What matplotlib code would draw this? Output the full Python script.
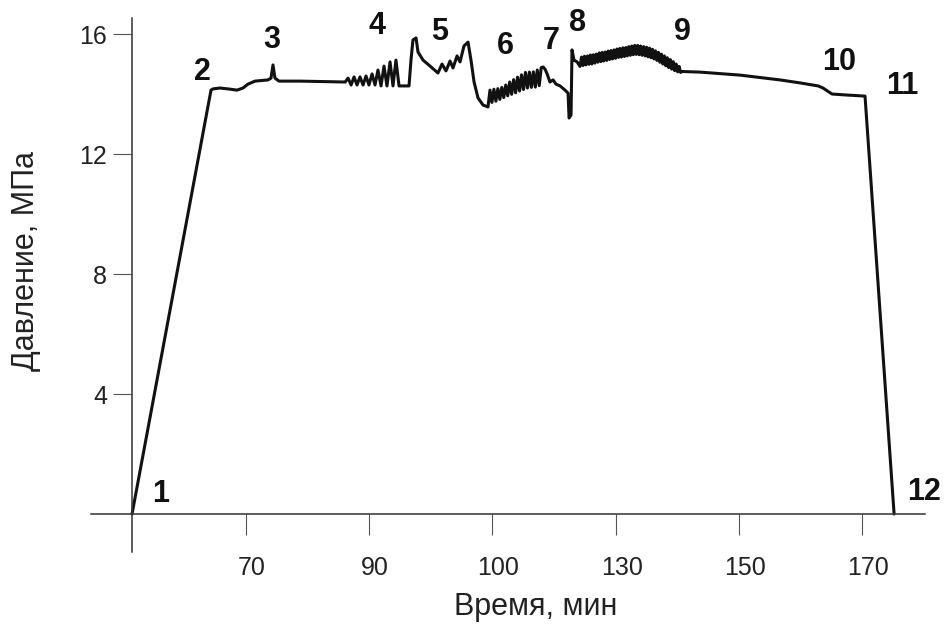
import matplotlib
matplotlib.use("Agg")
import matplotlib.pyplot as plt
import matplotlib.transforms as mtransforms

plt.rcParams['font.family'] = ['Liberation Sans', 'DejaVu Sans']

# x is position along the time axis, in tick steps (the tick labels are not evenly spaced in minutes)
XTICK_LABELS = ['70', '90', '100', '130', '150', '170']
XTICK_POS = [1, 2, 3, 4, 5, 6]
YTICKS = [4, 8, 12, 16]
X_ORIGIN = 0.075

# pressure curve
t_pos = [
    # 1 -> 2 ramp, plateau with bump 3
    0.075, 0.716, 0.732, 0.789, 0.854, 0.927, 0.976, 1.016, 1.073, 1.179,
    1.203, 1.219, 1.235, 1.268, 1.438, 1.805,
    # oscillations 4
    1.828, 1.853, 1.877, 1.901, 1.925, 1.950, 1.974, 1.998, 2.023, 2.047,
    2.071, 2.096, 2.120, 2.144, 2.169, 2.193, 2.217, 2.242, 2.266, 2.323,
    # peak and 5
    2.339, 2.355, 2.380, 2.396, 2.437, 2.494, 2.558, 2.591, 2.623, 2.656,
    2.680, 2.713, 2.737, 2.769, 2.802, 2.826, 2.851, 2.883, 2.924, 2.964,
    # oscillations 6 - 7
    2.980, 2.996, 3.012, 3.028, 3.044, 3.060, 3.076, 3.092, 3.108, 3.124,
    3.140, 3.156, 3.172, 3.188, 3.204, 3.220, 3.236, 3.252, 3.268, 3.284,
    3.300, 3.316, 3.332, 3.348, 3.364, 3.380, 3.396, 3.412, 3.428, 3.444,
    3.467, 3.492, 3.516, 3.549, 3.589, 3.614,
    # spike 8
    3.622, 3.638, 3.646, 3.662, 3.687,
    # oscillations up to 9
    3.711, 3.723, 3.735, 3.747, 3.759, 3.771, 3.783, 3.795, 3.807, 3.819,
    3.831, 3.843, 3.855, 3.867, 3.879, 3.891, 3.903, 3.915, 3.927, 3.939,
    3.951, 3.963, 3.975, 3.987, 3.999, 4.011, 4.023, 4.035, 4.047, 4.059,
    4.071, 4.083, 4.095, 4.107, 4.119, 4.131, 4.143, 4.155, 4.167, 4.179,
    4.191, 4.203, 4.215, 4.227, 4.239, 4.251, 4.263, 4.275, 4.287, 4.299,
    4.311, 4.323, 4.335, 4.347, 4.359, 4.371, 4.383, 4.395, 4.407, 4.419,
    4.431, 4.443, 4.455, 4.467, 4.479, 4.491, 4.503, 4.515, 4.527, 4.539,
    # 9 -> 10 -> 11 -> 12
    4.685, 5.010, 5.334, 5.497, 5.643, 5.683, 5.756, 5.862, 6.024, 6.260,
]
p_mpa = [
    0.00, 14.13, 14.17, 14.20, 14.17, 14.13, 14.20, 14.33, 14.43, 14.47,
    14.53, 14.97, 14.53, 14.43, 14.43, 14.40,
    14.53, 14.30, 14.57, 14.30, 14.57, 14.30, 14.60, 14.30, 14.67, 14.30,
    14.80, 14.27, 14.93, 14.27, 15.07, 14.27, 15.13, 14.27, 14.27, 14.27,
    15.13, 15.80, 15.87, 15.40, 15.13, 14.93, 14.70, 15.00, 14.77, 15.10,
    14.87, 15.27, 15.07, 15.60, 15.73, 15.13, 14.40, 13.87, 13.63, 13.57,
    14.13, 13.72, 14.16, 13.76, 14.18, 13.82, 14.22, 13.88, 14.30, 13.94,
    14.40, 13.99, 14.48, 14.04, 14.56, 14.10, 14.64, 14.15, 14.72, 14.20,
    14.73, 14.22, 14.74, 14.23, 14.80, 14.28, 14.88, 14.90, 14.82, 14.67,
    14.40, 14.47, 14.33, 14.27, 14.13, 14.03,
    13.20, 13.30, 15.47, 15.13, 15.07,
    14.92, 15.23, 14.95, 15.26, 14.97, 15.27, 14.99, 15.30, 15.00, 15.31,
    15.03, 15.33, 15.06, 15.37, 15.08, 15.39, 15.10, 15.40, 15.12, 15.43,
    15.15, 15.45, 15.17, 15.47, 15.19, 15.50, 15.22, 15.52, 15.23, 15.54,
    15.25, 15.55, 15.27, 15.58, 15.29, 15.60, 15.31, 15.62, 15.32, 15.62,
    15.31, 15.60, 15.29, 15.58, 15.27, 15.56, 15.24, 15.53, 15.21, 15.49,
    15.17, 15.44, 15.12, 15.39, 15.06, 15.33, 15.00, 15.27, 14.94, 15.21,
    14.88, 15.15, 14.83, 15.08, 14.78, 15.00, 14.74, 14.92, 14.72, 14.75,
    14.73, 14.63, 14.47, 14.37, 14.27, 14.20, 14.00, 13.97, 13.93, 0.00,
]

# numbered points
mark_text = ['1', '2', '3', '4', '5', '6', '7', '8', '9', '10', '11', '12']
mark_t = [0.310, 0.643, 1.211, 2.064, 2.575, 3.102, 3.476, 3.687, 4.545, 5.813, 6.325, 6.500]
mark_p = [0.67, 14.73, 15.80, 16.27, 16.07, 15.60, 15.77, 16.37, 16.07, 15.07, 14.27, 0.73]

fig = plt.figure(figsize=(9.44, 6.26), dpi=100)
ax = fig.add_axes([0.0964, 0.1182, 0.8835, 0.8530])

ax.plot(t_pos, p_mpa, color='#111111', lw=2.2, solid_joinstyle='round', solid_capstyle='round')

for s, t, p in zip(mark_text, mark_t, mark_p):
    ax.text(t, p, s, fontsize=22, fontweight='bold', ha='center', va='center', color='#111111')

ax.set_xlim(-0.258, 6.511)
ax.set_ylim(-1.267, 16.533)

for side in ['top', 'right']:
    ax.spines[side].set_visible(False)
ax.spines['left'].set_position(('data', X_ORIGIN))
ax.spines['bottom'].set_position(('data', 0))
for side in ['left', 'bottom']:
    ax.spines[side].set_color('#333333')
    ax.spines[side].set_linewidth(1.1)

ax.set_xticks(XTICK_POS)
ax.set_xticklabels(XTICK_LABELS)
ax.set_yticks(YTICKS)
ax.tick_params(axis='x', direction='out', length=15, width=0.8, color='#555555', pad=15, labelsize=18, labelcolor='#222222')
ax.tick_params(axis='y', direction='out', length=14, width=0.8, color='#555555', pad=4, labelsize=18, labelcolor='#222222')

shift = mtransforms.ScaledTranslation(0.06, 0, fig.dpi_scale_trans)
for lab in ax.get_xticklabels():
    lab.set_transform(lab.get_transform() + shift)

ax.set_xlabel('Время, мин', fontsize=22, color='#222222', va='center')
ax.xaxis.set_label_coords(0.5336, -0.103)
ax.set_ylabel('Давление, МПа', fontsize=22, color='#222222', va='center')
ax.yaxis.set_label_coords(-0.078, 0.545)

fig.savefig('out.png', dpi=100)
